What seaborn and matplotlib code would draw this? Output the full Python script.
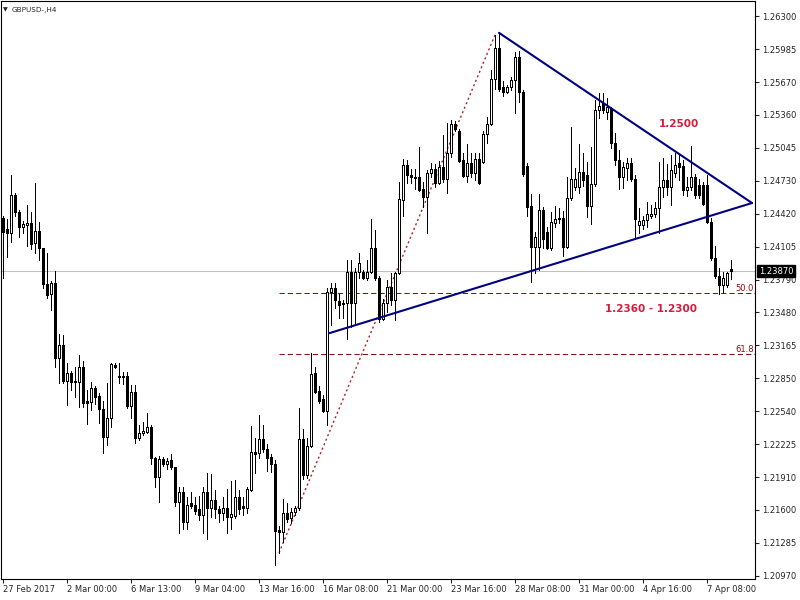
# GBPUSD H4 candlestick chart (MT4 style) with trend lines and fibo levels

import matplotlib
matplotlib.use("Agg")
from matplotlib import pyplot as plt
import matplotlib.transforms as mtransforms
import seaborn as sns
import numpy as np

# ---- candle data, oldest bar first ----
opens = [
    1.2438, 1.2427, 1.2423, 1.2460, 1.2443, 1.2429, 1.2431, 1.2433, 1.2414, 1.2425,
    1.2409, 1.2375, 1.2365, 1.2376, 1.2304, 1.2317, 1.2283, 1.2290, 1.2283, 1.2282,
    1.2296, 1.2264, 1.2263, 1.2276, 1.2268, 1.2256, 1.2229, 1.2247, 1.2298, 1.2287,
    1.2287, 1.2287, 1.2259, 1.2272, 1.2228, 1.2233, 1.2234, 1.2239, 1.2209, 1.2191,
    1.2208, 1.2204, 1.2207, 1.2201, 1.2167, 1.2177, 1.2148, 1.2166, 1.2165, 1.2161,
    1.2155, 1.2177, 1.2162, 1.2169, 1.2161, 1.2157, 1.2162, 1.2153, 1.2154, 1.2172,
    1.2164, 1.2162, 1.2179, 1.2215, 1.2214, 1.2227, 1.2218, 1.2210, 1.2204, 1.2141,
    1.2139, 1.2157, 1.2152, 1.2158, 1.2162, 1.2227, 1.2193, 1.2221, 1.2290, 1.2273,
    1.2265, 1.2254, 1.2367, 1.2371, 1.2359, 1.2357, 1.2357, 1.2386, 1.2357, 1.2386,
    1.2386, 1.2381, 1.2386, 1.2409, 1.2381, 1.2342, 1.2357, 1.2372, 1.2360, 1.2385,
    1.2455, 1.2488, 1.2479, 1.2477, 1.2477, 1.2465, 1.2458, 1.2481, 1.2484, 1.2471,
    1.2486, 1.2475, 1.2500, 1.2527, 1.2521, 1.2493, 1.2478, 1.2490, 1.2481, 1.2494,
    1.2491, 1.2518, 1.2527, 1.2570, 1.2600, 1.2562, 1.2558, 1.2562, 1.2569, 1.2591,
    1.2558, 1.2487, 1.2449, 1.2410, 1.2410, 1.2445, 1.2424, 1.2409, 1.2433, 1.2437,
    1.2438, 1.2410, 1.2457, 1.2467, 1.2467, 1.2482, 1.2479, 1.2449, 1.2470, 1.2541,
    1.2547, 1.2539, 1.2542, 1.2509, 1.2493, 1.2477, 1.2485, 1.2490, 1.2475, 1.2431,
    1.2431, 1.2436, 1.2440, 1.2442, 1.2447, 1.2467, 1.2474, 1.2467, 1.2481, 1.2490,
    1.2487, 1.2464, 1.2467, 1.2477, 1.2469, 1.2469, 1.2469, 1.2434, 1.2400, 1.2383,
    1.2374, 1.2374, 1.2389,
]
highs = [
    1.2440, 1.2437, 1.2479, 1.2462, 1.2445, 1.2435, 1.2450, 1.2443, 1.2471, 1.2434,
    1.2409, 1.2404, 1.2378, 1.2387, 1.2327, 1.2326, 1.2300, 1.2292, 1.2296, 1.2307,
    1.2302, 1.2274, 1.2282, 1.2278, 1.2271, 1.2264, 1.2281, 1.2300, 1.2300, 1.2300,
    1.2291, 1.2291, 1.2279, 1.2279, 1.2241, 1.2244, 1.2252, 1.2241, 1.2210, 1.2211,
    1.2210, 1.2209, 1.2213, 1.2201, 1.2182, 1.2182, 1.2172, 1.2177, 1.2172, 1.2173,
    1.2182, 1.2195, 1.2194, 1.2179, 1.2164, 1.2172, 1.2180, 1.2187, 1.2188, 1.2179,
    1.2172, 1.2182, 1.2240, 1.2228, 1.2250, 1.2241, 1.2223, 1.2213, 1.2207, 1.2145,
    1.2170, 1.2166, 1.2162, 1.2164, 1.2257, 1.2237, 1.2228, 1.2309, 1.2296, 1.2278,
    1.2269, 1.2371, 1.2376, 1.2376, 1.2365, 1.2360, 1.2398, 1.2398, 1.2390, 1.2404,
    1.2388, 1.2398, 1.2437, 1.2426, 1.2383, 1.2361, 1.2379, 1.2385, 1.2386, 1.2472,
    1.2494, 1.2493, 1.2484, 1.2484, 1.2505, 1.2472, 1.2483, 1.2490, 1.2489, 1.2492,
    1.2517, 1.2528, 1.2531, 1.2530, 1.2522, 1.2500, 1.2508, 1.2500, 1.2500, 1.2500,
    1.2521, 1.2534, 1.2579, 1.2612, 1.2615, 1.2568, 1.2564, 1.2572, 1.2596, 1.2597,
    1.2560, 1.2490, 1.2461, 1.2424, 1.2461, 1.2448, 1.2429, 1.2443, 1.2449, 1.2447,
    1.2444, 1.2477, 1.2524, 1.2485, 1.2508, 1.2500, 1.2491, 1.2505, 1.2550, 1.2557,
    1.2557, 1.2552, 1.2543, 1.2519, 1.2502, 1.2491, 1.2495, 1.2495, 1.2479, 1.2447,
    1.2440, 1.2453, 1.2450, 1.2453, 1.2491, 1.2495, 1.2489, 1.2498, 1.2500, 1.2498,
    1.2493, 1.2477, 1.2506, 1.2480, 1.2475, 1.2472, 1.2479, 1.2438, 1.2411, 1.2390,
    1.2386, 1.2386, 1.2398,
]
lows = [
    1.2381, 1.2401, 1.2415, 1.2440, 1.2420, 1.2423, 1.2411, 1.2408, 1.2404, 1.2398,
    1.2371, 1.2362, 1.2350, 1.2296, 1.2281, 1.2281, 1.2260, 1.2274, 1.2267, 1.2258,
    1.2258, 1.2242, 1.2255, 1.2261, 1.2243, 1.2214, 1.2222, 1.2239, 1.2295, 1.2281,
    1.2280, 1.2257, 1.2247, 1.2224, 1.2226, 1.2231, 1.2233, 1.2204, 1.2182, 1.2167,
    1.2202, 1.2199, 1.2199, 1.2164, 1.2138, 1.2142, 1.2142, 1.2162, 1.2156, 1.2150,
    1.2138, 1.2132, 1.2153, 1.2152, 1.2148, 1.2150, 1.2138, 1.2142, 1.2152, 1.2156,
    1.2155, 1.2157, 1.2178, 1.2195, 1.2209, 1.2215, 1.2197, 1.2196, 1.2107, 1.2119,
    1.2129, 1.2148, 1.2147, 1.2155, 1.2160, 1.2189, 1.2190, 1.2220, 1.2271, 1.2262,
    1.2253, 1.2241, 1.2336, 1.2352, 1.2343, 1.2343, 1.2323, 1.2334, 1.2338, 1.2381,
    1.2380, 1.2379, 1.2385, 1.2379, 1.2339, 1.2341, 1.2348, 1.2355, 1.2341, 1.2384,
    1.2440, 1.2471, 1.2471, 1.2465, 1.2463, 1.2448, 1.2423, 1.2477, 1.2467, 1.2470,
    1.2472, 1.2462, 1.2496, 1.2521, 1.2491, 1.2477, 1.2472, 1.2477, 1.2474, 1.2470,
    1.2490, 1.2509, 1.2526, 1.2561, 1.2559, 1.2554, 1.2557, 1.2560, 1.2538, 1.2548,
    1.2478, 1.2440, 1.2377, 1.2385, 1.2388, 1.2409, 1.2408, 1.2407, 1.2429, 1.2433,
    1.2402, 1.2409, 1.2455, 1.2464, 1.2462, 1.2468, 1.2439, 1.2432, 1.2468, 1.2533,
    1.2538, 1.2532, 1.2504, 1.2488, 1.2465, 1.2466, 1.2474, 1.2473, 1.2418, 1.2423,
    1.2427, 1.2429, 1.2438, 1.2439, 1.2423, 1.2458, 1.2460, 1.2450, 1.2477, 1.2474,
    1.2460, 1.2459, 1.2464, 1.2457, 1.2457, 1.2450, 1.2433, 1.2398, 1.2381, 1.2365,
    1.2366, 1.2372, 1.2380,
]
closes = [
    1.2424, 1.2423, 1.2460, 1.2443, 1.2429, 1.2432, 1.2433, 1.2413, 1.2425, 1.2409,
    1.2375, 1.2364, 1.2376, 1.2304, 1.2317, 1.2283, 1.2290, 1.2282, 1.2282, 1.2296,
    1.2262, 1.2262, 1.2276, 1.2267, 1.2256, 1.2229, 1.2247, 1.2299, 1.2296, 1.2286,
    1.2286, 1.2259, 1.2272, 1.2228, 1.2233, 1.2235, 1.2239, 1.2209, 1.2191, 1.2208,
    1.2204, 1.2206, 1.2201, 1.2167, 1.2177, 1.2148, 1.2165, 1.2164, 1.2159, 1.2155,
    1.2177, 1.2162, 1.2169, 1.2161, 1.2157, 1.2162, 1.2153, 1.2156, 1.2172, 1.2161,
    1.2162, 1.2180, 1.2215, 1.2213, 1.2227, 1.2218, 1.2209, 1.2204, 1.2140, 1.2139,
    1.2157, 1.2151, 1.2158, 1.2162, 1.2227, 1.2193, 1.2221, 1.2289, 1.2272, 1.2264,
    1.2254, 1.2367, 1.2371, 1.2360, 1.2355, 1.2356, 1.2386, 1.2357, 1.2386, 1.2395,
    1.2381, 1.2386, 1.2409, 1.2381, 1.2342, 1.2357, 1.2372, 1.2360, 1.2385, 1.2456,
    1.2488, 1.2479, 1.2477, 1.2476, 1.2464, 1.2458, 1.2481, 1.2484, 1.2471, 1.2486,
    1.2475, 1.2500, 1.2527, 1.2522, 1.2492, 1.2478, 1.2490, 1.2481, 1.2494, 1.2471,
    1.2518, 1.2527, 1.2570, 1.2600, 1.2561, 1.2558, 1.2562, 1.2569, 1.2591, 1.2558,
    1.2480, 1.2448, 1.2410, 1.2420, 1.2445, 1.2418, 1.2409, 1.2434, 1.2437, 1.2438,
    1.2410, 1.2457, 1.2475, 1.2475, 1.2482, 1.2474, 1.2449, 1.2470, 1.2541, 1.2544,
    1.2541, 1.2543, 1.2509, 1.2493, 1.2477, 1.2486, 1.2490, 1.2475, 1.2437, 1.2435,
    1.2436, 1.2442, 1.2442, 1.2447, 1.2467, 1.2474, 1.2467, 1.2483, 1.2488, 1.2486,
    1.2464, 1.2467, 1.2477, 1.2460, 1.2460, 1.2451, 1.2434, 1.2400, 1.2383, 1.2374,
    1.2381, 1.2385, 1.2387,
]

# time axis labels (every 16 bars)
time_labels = ["27 Feb 2017", "2 Mar 00:00", "6 Mar 13:00", "9 Mar 04:00",
               "13 Mar 16:00", "16 Mar 08:00", "21 Mar 00:00", "23 Mar 16:00",
               "28 Mar 08:00", "31 Mar 00:00", "4 Apr 16:00", "7 Apr 08:00"]
time_label_bars = [0, 16, 32, 48, 64, 80, 96, 112, 128, 144, 160, 176]

# price scale labels
price_ticks = [1.26300, 1.25985, 1.25670, 1.25360, 1.25045, 1.24730, 1.24420,
               1.24105, 1.23790, 1.23480, 1.23165, 1.22850, 1.22540, 1.22225,
               1.21910, 1.21600, 1.21285, 1.20970]
price_tick_labels = ["1.26300", "1.25985", "1.25670", "1.25360", "1.25045",
                     "1.24730", "1.24420", "1.24105", "1.23790", "1.23480",
                     "1.23165", "1.22850", "1.22540", "1.22225", "1.21910",
                     "1.21600", "1.21285", "1.20970"]

bid_price = 1.23870

# fibonacci retracement (anchor points and drawn levels)
fib_anchor_bars = [69, 123]
fib_anchor_prices = [1.2119, 1.2612]
fib_levels = [1.2366, 1.2308]
fib_names = ["50.0", "61.8"]

# triangle trend lines
upper_line_bars = [124, 187.25]
upper_line_prices = [1.2614, 1.2452]
lower_line_bars = [81.5, 187.25]
lower_line_prices = [1.2328, 1.2452]

# annotations
notes = ["1.2500", "1.2360 - 1.2300"]
note_bars = [169, 162]
note_prices = [1.2527, 1.2351]


def plot_chart():
    sns.set_style("white")
    plt.rcParams["font.family"] = ["DejaVu Sans"]

    fig = plt.figure(figsize=(8, 6), dpi=100)
    ax = fig.add_axes([1 / 800, 21 / 600, 754 / 800, 578 / 600])

    o = np.array(opens)
    h = np.array(highs)
    l = np.array(lows)
    c = np.array(closes)
    idx = np.arange(len(o))
    bull = c >= o

    # bid line
    ax.axhline(bid_price, color="#c0c0c0", linewidth=0.75, zorder=1)

    # wicks then bodies (thin, crisp lines like the terminal)
    ax.vlines(idx, l, h, color="black", linewidth=0.5, zorder=3, antialiased=False)
    body = np.maximum(np.abs(c - o), 0.00002)
    ax.bar(idx, body, bottom=np.minimum(o, c), width=0.5,
           color=np.where(bull, "white", "black"), edgecolor="black",
           linewidth=0.5, zorder=4, antialiased=False)

    # fibo levels
    ax.hlines(fib_levels, fib_anchor_bars[0], 188, colors="#8b1010",
              linestyles=(0, (5, 3)), linewidth=0.75, zorder=2)
    for lvl, name in zip(fib_levels, fib_names):
        ax.text(187.7, lvl + 0.00005, name, ha="right", va="bottom",
                color="#8b1010", fontsize=6, zorder=6)
    ax.plot(fib_anchor_bars, fib_anchor_prices, color="#b22222",
            linestyle=(0, (1.5, 2)), linewidth=1.0, zorder=2)

    # trend lines
    ax.plot(upper_line_bars, upper_line_prices, color="#000080", linewidth=1.5, zorder=5)
    ax.plot(lower_line_bars, lower_line_prices, color="#000080", linewidth=1.5, zorder=5)

    # notes
    for txt, xb, yp in zip(notes, note_bars, note_prices):
        ax.text(xb, yp, txt, ha="center", va="center", color="#d61a3c",
                fontsize=7.5, fontweight="bold", zorder=6)

    ax.set_xlim(-0.5, 188)
    ax.set_ylim(1.20941, 1.26443)

    # price axis on the right
    ax.yaxis.tick_right()
    ax.set_yticks(price_ticks)
    ax.set_yticklabels(price_tick_labels)
    ax.tick_params(axis="y", length=3, width=0.8, pad=2, labelsize=6,
                   direction="out", right=True, left=False)

    # time axis
    ax.set_xticks(time_label_bars)
    ax.set_xticklabels(time_labels, ha="left")
    ax.tick_params(axis="x", length=3, width=0.8, pad=1.5, labelsize=6,
                   direction="out", bottom=True)

    for sp in ax.spines.values():
        sp.set_visible(True)
        sp.set_color("black")
        sp.set_linewidth(0.8)

    # current price box
    trans = mtransforms.blended_transform_factory(ax.transAxes, ax.transData)
    ax.text(1.005, bid_price, "1.23870", transform=trans, ha="left", va="center",
            color="white", fontsize=6, clip_on=False, zorder=10,
            bbox=dict(boxstyle="square,pad=0.2", fc="black", ec="black"))

    # symbol header
    fig.text(3 / 800, 1 - 10 / 600, "\u25bc", fontsize=4.5, va="center", ha="left")
    fig.text(12 / 800, 1 - 10 / 600, "GBPUSD-,H4", fontsize=5.2, va="center", ha="left")

    fig.savefig("out.png", dpi=100)


if __name__ == "__main__":
    plot_chart()
